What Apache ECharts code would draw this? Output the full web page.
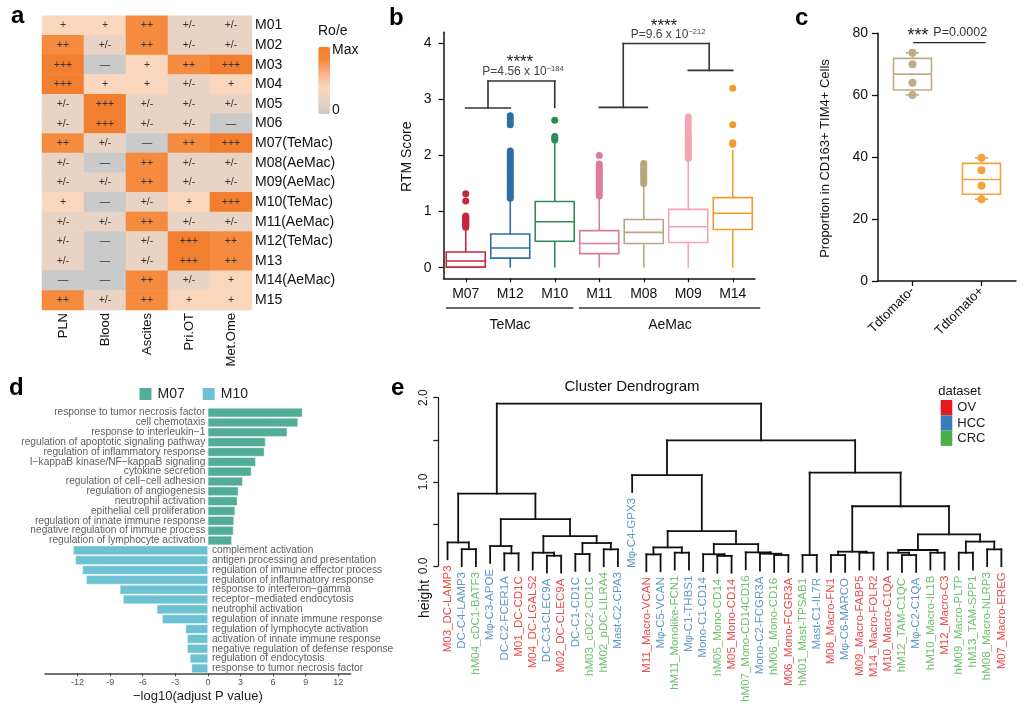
<!DOCTYPE html>
<html><head><meta charset="utf-8">
<script src="https://cdn.jsdelivr.net/npm/echarts@6/dist/echarts.min.js"></script>
<style>html,body{margin:0;padding:0;background:#fff}#c{width:1032px;height:720px}</style>
</head><body><div id="c"></div>
<script>
const FONT = '"Liberation Sans", Arial, Helvetica, sans-serif';

// ---------- panel a : Ro/e heatmap ----------
const aTissues = ['PLN', 'Blood', 'Ascites', 'Pri.OT', 'Met.Ome'];
const aModules = ['M01', 'M02', 'M03', 'M04', 'M05', 'M06', 'M07(TeMac)', 'M08(AeMac)', 'M09(AeMac)',
  'M10(TeMac)', 'M11(AeMac)', 'M12(TeMac)', 'M13', 'M14(AeMac)', 'M15'];
const aSymbols = [
  ['+', '+', '++', '+/-', '+/-'],
  ['++', '+/-', '++', '+/-', '+/-'],
  ['+++', '—', '+', '++', '+++'],
  ['+++', '+', '+', '+/-', '+'],
  ['+/-', '+++', '+/-', '+/-', '+/-'],
  ['+/-', '+++', '+/-', '+/-', '—'],
  ['++', '+/-', '—', '++', '+++'],
  ['+/-', '—', '++', '+/-', '+/-'],
  ['+/-', '+/-', '++', '+/-', '+/-'],
  ['+', '—', '+/-', '+', '+++'],
  ['+/-', '+/-', '++', '+/-', '+/-'],
  ['+/-', '—', '+/-', '+++', '++'],
  ['+/-', '—', '+/-', '+++', '++'],
  ['—', '—', '++', '+/-', '+'],
  ['++', '+/-', '++', '+', '+']
];
const aLevel = { '—': 0, '+/-': 0.8, '+': 1.6, '++': 3.2, '+++': 4 };

// ---------- panel b : RTM score boxplots ----------
const bCategories = ['M07', 'M12', 'M10', 'M11', 'M08', 'M09', 'M14'];
// [min, Q1, median, Q3, max]
const bStats = [
  [0, 0.01, 0.12, 0.28, 0.68],
  [0, 0.17, 0.35, 0.60, 1.22],
  [0, 0.47, 0.82, 1.18, 2.24],
  [0, 0.25, 0.43, 0.66, 1.25],
  [0, 0.43, 0.63, 0.86, 1.48],
  [0, 0.45, 0.73, 1.04, 1.92],
  [0, 0.68, 0.97, 1.25, 2.10]
];
const bOutliers = [
  [0.72, 0.74, 0.76, 0.78, 0.80, 0.82, 0.84, 0.86, 0.88, 0.90, 0.92, 1.19, 1.32],
  [1.24, 1.28, 1.32, 1.36, 1.40, 1.44, 1.48, 1.52, 1.56, 1.60, 1.64, 1.68, 1.72, 1.76, 1.80, 1.84, 1.88, 1.92, 1.96, 2.00, 2.04, 2.08, 2.55, 2.60, 2.66, 2.71],
  [2.28, 2.31, 2.34, 2.63],
  [1.28, 1.32, 1.36, 1.40, 1.44, 1.48, 1.52, 1.56, 1.60, 1.64, 1.68, 1.72, 1.76, 1.80, 1.85, 2.00],
  [1.50, 1.54, 1.58, 1.62, 1.66, 1.70, 1.74, 1.78, 1.82, 1.86],
  [1.95, 1.99, 2.03, 2.07, 2.11, 2.15, 2.19, 2.23, 2.27, 2.31, 2.35, 2.39, 2.45, 2.52, 2.58, 2.64, 2.69],
  [2.20, 2.23, 2.55, 3.20]
];
const bColors = ['#c8283f', '#2d6da8', '#2e8b57', '#db7c9d', '#b8a67e', '#f4a3b5', '#f29b2e'];
const bYTicks = [0, 1, 2, 3, 4];
// significance brackets, in (category index, score) space
const bBrackets = [
  [0, 2.85, 1, 2.85], [0.5, 2.85, 0.5, 3.33], [0.5, 3.33, 2, 3.33], [2, 3.33, 2, 2.86],
  [3, 2.86, 4.08, 2.86], [3.54, 2.86, 3.54, 4.0], [3.54, 4.0, 5.47, 4.0], [5.47, 4.0, 5.47, 3.52], [5, 3.52, 6, 3.52],
  [-0.43, -0.72, 2.4, -0.72], [2.56, -0.72, 6.6, -0.72]
];

// ---------- panel c ----------
const cGroups = ['Tdtomato-', 'Tdtomato+'];
const cStats = [[60.1, 61.7, 66.8, 71.9, 73.7], [26.4, 28.0, 32.8, 38.0, 39.8]];
const cPoints = [[73.7, 70.0, 64.0, 60.1], [39.8, 35.8, 30.8, 26.4]];
const cColors = ['#bead86', '#f3a23c'];
const cSigLine = [[0.02, 77, 1.05, 77]];

// ---------- panel d : GO enrichment ----------
const dM07Terms = ['response to tumor necrosis factor', 'cell chemotaxis', 'response to interleukin−1',
  'regulation of apoptotic signaling pathway', 'regulation of inflammatory response',
  'I−kappaB kinase/NF−kappaB signaling', 'cytokine secretion', 'regulation of cell−cell adhesion',
  'regulation of angiogenesis', 'neutrophil activation', 'epithelial cell proliferation',
  'regulation of innate immune response', 'negative regulation of immune process',
  'regulation of lymphocyte activation'];
const dM07Values = [8.7, 8.3, 7.3, 5.3, 5.2, 4.4, 4.0, 3.2, 2.8, 2.7, 2.5, 2.4, 2.35, 2.2];
const dM10Terms = ['complement activation', 'antigen processing and presentation',
  'regulation of immune effector process', 'regulation of inflammatory response',
  'response to interferon−gamma', 'receptor−mediated endocytosis', 'neutrophil activation',
  'regulation of innate immune response', 'regulation of lymphocyte activation',
  'activation of innate immune response', 'negative regulation of defense response',
  'regulation of endocytosis', 'response to tumor necrosis factor'];
const dM10Values = [-12.4, -12.2, -11.55, -11.2, -8.1, -7.8, -4.7, -4.2, -2.05, -1.9, -1.9, -1.65, -1.5];
const dTicks = [-12, -9, -6, -3, 0, 3, 6, 9, 12];

// ---------- panel e : cluster dendrogram ----------
const eLeaves = ['M03_DC-LAMP3', 'DC-C4-LAMP3', 'hM04_cDC1-BATF3', 'Mφ-C3-APOE', 'DC-C2-FCER1A',
  'M01_DC-CD1C', 'M04_DC-LGALS2', 'DC-C3-CLEC9A', 'M02_DC-CLEC9A', 'DC-C1-CD1C', 'hM03_cDC2-CD1C',
  'hM02_pDC-LILRA4', 'Mast-C2-CPA3', 'Mφ-C4-GPX3', 'M11_Macro-VCAN', 'Mφ-C5-VCAN',
  'hM11_Monolike-FCN1', 'Mφ-C1-THBS1', 'Mono-C1-CD14', 'hM05_Mono-CD14', 'M05_Mono-CD14',
  'hM07_Mono-CD14CD16', 'Mono-C2-FCGR3A', 'hM06_Mono-CD16', 'M06_Mono-FCGR3A', 'hM01_Mast-TPSAB1',
  'Mast-C1-IL7R', 'M08_Macro-FN1', 'Mφ-C6-MARCO', 'M09_Macro-FABP5', 'M14_Macro-FOLR2',
  'M10_Macro-C1QA', 'hM12_TAM-C1QC', 'Mφ-C2-C1QA', 'hM10_Macro-IL1B', 'M12_Macro-C3',
  'hM09_Macro-PLTP', 'hM13_TAM-SPP1', 'hM08_Macro-NLRP3', 'M07_Macro-EREG'];
const eDataset = ['OV', 'HCC', 'CRC', 'HCC', 'HCC', 'OV', 'OV', 'HCC', 'OV', 'HCC', 'CRC', 'CRC', 'HCC',
  'HCC', 'OV', 'HCC', 'CRC', 'HCC', 'HCC', 'CRC', 'OV', 'CRC', 'HCC', 'CRC', 'OV', 'CRC', 'HCC', 'OV',
  'HCC', 'OV', 'OV', 'OV', 'CRC', 'HCC', 'CRC', 'OV', 'CRC', 'CRC', 'CRC', 'OV'];
const eDatasetNames = ['OV', 'HCC', 'CRC'];
const eDatasetColors = { OV: '#e41a1c', HCC: '#377eb8', CRC: '#4daf4a' };
// [height, left, right]; numbers are leaf indices
const eTree = [1.93,
  [0.86, [0.28, 0, [0.20, 1, 2]],
    [0.557, [0.237, 3, [0.15, 4, 5]],
      [0.356, [0.158, 6, [0.122, 7, 8]], [0.273, [0.142, 9, 10], [0.198, 11, 12]]]]],
  [1.494,
    [1.08, 13, [0.415, [0.221, [0.138, 14, 15], [0.158, 16, 17]],
      [0.26, [0.14, 18, [0.12, 19, 20]], [0.162, 21, [0.146, 22, [0.13, 23, 24]]]]]],
    [1.11, [0.13, 25, 26],
      [0.71, [0.17, [0.13, 27, 28], [0.158, 29, 30]],
        [0.375, [0.19, [0.158, 31, [0.13, 32, 33]], [0.158, 34, 35]],
          [0.29, [0.158, 36, 37], [0.198, 38, 39]]]]]]];
const eHang = 0.2;

// ================= build =================
const aData = [];
aSymbols.forEach((row, r) => row.forEach((s, c) => aData.push([c, r, aLevel[s]])));

const eSegs = [];
const eLeafEnd = new Array(eLeaves.length).fill(0);
function walk(node) {
  if (typeof node === 'number') return { x: node, leaf: true };
  const h = node[0];
  const L = walk(node[1]), R = walk(node[2]);
  [L, R].forEach(ch => {
    let y0;
    if (ch.leaf) { y0 = h - eHang; eLeafEnd[ch.x] = y0; } else y0 = ch.y;
    eSegs.push([ch.x, y0, ch.x, h]);
  });
  eSegs.push([L.x, h, R.x, h]);
  return { x: (L.x + R.x) / 2, y: h, leaf: false };
}
walk(eTree);

function segSeries(data, xi, yi, color, lw) {
  return {
    type: 'custom', xAxisIndex: xi, yAxisIndex: yi, clip: false, silent: true, z: 5,
    encode: { x: [0, 2], y: [1, 3] }, data: data,
    renderItem: (params, api) => {
      const p1 = api.coord([api.value(0), api.value(1)]);
      const p2 = api.coord([api.value(2), api.value(3)]);
      return { type: 'line', shape: { x1: p1[0], y1: p1[1], x2: p2[0], y2: p2[1] },
        style: { stroke: color, lineWidth: lw, lineCap: 'square' } };
    }
  };
}
function boxSeries(stats, colors, xi, yi, boxW, capW, lw) {
  return {
    type: 'custom', xAxisIndex: xi, yAxisIndex: yi, clip: false, silent: true, z: 3,
    encode: { x: 0, y: [1, 2, 3, 4, 5] },
    data: stats.map((s, i) => [i].concat(s)),
    renderItem: (params, api) => {
      const i = api.value(0);
      const p = [1, 2, 3, 4, 5].map(k => api.coord([i, api.value(k)]));
      const cx = p[2][0];
      const col = colors[params.dataIndex];
      const st = () => ({ stroke: col, lineWidth: lw, fill: null });
      const ch = [
        { type: 'line', shape: { x1: cx, y1: p[3][1], x2: cx, y2: p[4][1] }, style: st() },
        { type: 'line', shape: { x1: cx, y1: p[1][1], x2: cx, y2: p[0][1] }, style: st() },
        { type: 'rect', shape: { x: cx - boxW / 2, y: p[3][1], width: boxW, height: p[1][1] - p[3][1] },
          style: { stroke: col, lineWidth: lw, fill: '#fff' } },
        { type: 'line', shape: { x1: cx - boxW / 2, y1: p[2][1], x2: cx + boxW / 2, y2: p[2][1] }, style: st() }
      ];
      if (capW) {
        ch.push({ type: 'line', shape: { x1: cx - capW / 2, y1: p[4][1], x2: cx + capW / 2, y2: p[4][1] }, style: st() });
        ch.push({ type: 'line', shape: { x1: cx - capW / 2, y1: p[0][1], x2: cx + capW / 2, y2: p[0][1] }, style: st() });
      }
      return { type: 'group', children: ch };
    }
  };
}
function T(text, x, y, o) {
  o = o || {};
  const style = { text: text, fill: o.color || '#111', fontSize: o.size || 13, fontFamily: FONT,
    fontWeight: o.weight || 'normal', align: o.align || 'left', verticalAlign: o.va || 'middle' };
  if (o.rich) style.rich = o.rich;
  return { type: 'text', x: x, y: y, rotation: o.rot || 0, silent: true, z: 100, style: style };
}
const supRich = { n: { fontSize: 12, fill: '#444', fontFamily: FONT, lineHeight: 14 },
  s: { fontSize: 7.5, fill: '#444', fontFamily: FONT, verticalAlign: 'top', lineHeight: 14 } };

const noLine = { show: false };
const blackLine = { show: true, onZero: false, lineStyle: { color: '#111', width: 1.5 } };

const bOutData = [];
bOutliers.forEach((arr, i) => arr.forEach(v => bOutData.push({ value: [i, v], itemStyle: { color: bColors[i], opacity: 1 } })));
const cPtData = [];
cPoints.forEach((arr, i) => arr.forEach(v => cPtData.push({ value: [i, v], itemStyle: { color: cColors[i], opacity: 1 } })));

const dIds = dM07Terms.concat(dM10Terms).map((t, i) => 'r' + i);
const dLabelText = dM07Terms.concat(dM10Terms);
const dM07Data = dM07Values.concat(dM10Terms.map(() => '-'));
const dM10Data = dM07Terms.map(() => '-').concat(dM10Values);
const dLabelData = dLabelText.map((t, i) => ({
  value: [0, i],
  label: i < dM07Terms.length ? { position: 'left', distance: 2.5 } : { position: 'right', distance: 4 }
}));

const eLabelData = eLeaves.map((t, i) => ({ value: [i, eLeafEnd[i]], label: { color: eDatasetColors[eDataset[i]] } }));

const gridBase = { containLabel: false, outerBoundsMode: 'none', show: false };

const option = {
  animation: false,
  backgroundColor: '#fff',
  textStyle: { fontFamily: FONT },
  grid: [
    Object.assign({ left: 42, top: 15.7, width: 210, height: 294.3 }, gridBase),
    Object.assign({ left: 443.5, top: 32.3, width: 311.5, height: 246 }, gridBase),
    Object.assign({ left: 878, top: 33.3, width: 138, height: 247.7 }, gridBase),
    Object.assign({ left: 45, top: 407.7, width: 305.7, height: 265.6 }, gridBase),
    Object.assign({ left: 438.3, top: 397.7, width: 572.3, height: 168.3 }, gridBase)
  ],
  xAxis: [
    { gridIndex: 0, type: 'category', data: aTissues, axisLine: noLine, axisTick: { show: false }, splitLine: { show: false },
      axisLabel: { rotate: 90, fontSize: 13, color: '#111', margin: 3, interval: 0 } },
    { gridIndex: 1, type: 'category', data: bCategories, axisLine: blackLine,
      axisTick: { show: true, alignWithLabel: true, length: 4, lineStyle: { color: '#111', width: 1.2 } },
      axisLabel: { fontSize: 14, color: '#111', margin: 9, interval: 0 }, splitLine: { show: false } },
    { gridIndex: 1, type: 'value', min: -0.5, max: 6.5, show: false },
    { gridIndex: 2, type: 'category', data: cGroups, axisLine: blackLine,
      axisTick: { show: true, alignWithLabel: true, length: 5, lineStyle: { color: '#111', width: 1.3 } },
      axisLabel: { rotate: 45, fontSize: 13, color: '#111', margin: 8, interval: 0 }, splitLine: { show: false } },
    { gridIndex: 2, type: 'value', min: -0.5, max: 1.5, show: false },
    { gridIndex: 3, type: 'value', min: -15, max: 13.15,
      axisLine: { show: true, onZero: false, lineStyle: { color: '#444', width: 1.5 } },
      axisTick: { show: true, customValues: dTicks, length: 3, lineStyle: { color: '#444' } },
      axisLabel: { customValues: dTicks, fontSize: 9, color: '#555', margin: 5 }, splitLine: { show: false },
      name: '−log10(adjust P value)', nameLocation: 'middle', nameGap: 17,
      nameTextStyle: { fontSize: 13, color: '#222', fontFamily: FONT } },
    { gridIndex: 4, type: 'value', min: -0.65, max: 39.65, show: false }
  ],
  yAxis: [
    { gridIndex: 0, type: 'category', data: aModules, inverse: true, position: 'right', axisLine: noLine,
      axisTick: { show: false }, splitLine: { show: false },
      axisLabel: { fontSize: 14, color: '#111', margin: 3, interval: 0 } },
    { gridIndex: 1, type: 'value', min: -0.19, max: 4.2, axisLine: blackLine,
      axisTick: { show: true, customValues: bYTicks, length: 5, lineStyle: { color: '#111', width: 1.2 } },
      axisLabel: { customValues: bYTicks, fontSize: 14, color: '#111', margin: 12 }, splitLine: { show: false } },
    { gridIndex: 2, type: 'value', min: 0, max: 80, interval: 20, axisLine: blackLine,
      axisTick: { show: true, length: 6, lineStyle: { color: '#111', width: 1.3 } },
      axisLabel: { fontSize: 14, color: '#111', margin: 10 }, splitLine: { show: false } },
    { gridIndex: 3, type: 'category', data: dIds, inverse: true, show: false },
    { gridIndex: 4, type: 'value', min: 0, max: 2,
      axisLine: { show: true, onZero: false, lineStyle: { color: '#222', width: 1.3 } },
      axisTick: { show: true, customValues: [0, 0.5, 1, 1.5, 2], length: 5, lineStyle: { color: '#222', width: 1.3 } },
      axisLabel: { customValues: [0, 1, 2], formatter: v => Number(v).toFixed(1), rotate: 90, fontSize: 12, color: '#222', margin: 9 },
      splitLine: { show: false } }
  ],
  visualMap: [{
    type: 'continuous', seriesIndex: 0, dimension: 2, min: 0, max: 4, show: true, calculable: false,
    left: 318.3, top: 46.7, itemWidth: 11.7, itemHeight: 67.6, padding: 0, text: null, hoverLink: false,
    inRange: { color: ['#cacaca', '#e8d3c4', '#f9d6bc', '#f7b386', '#f48b3e', '#f27f2f'] }
  }],
  legend: [
    { data: ['M07', 'M10'], left: 137.5, top: 386, itemWidth: 14, itemHeight: 14, itemGap: 16, icon: 'rect',
      padding: 0, selectedMode: false, textStyle: { fontSize: 14, color: '#222', fontFamily: FONT } },
    { data: eDatasetNames, orient: 'vertical', left: 940.7, top: 400, itemWidth: 11.6, itemHeight: 15.3, itemGap: 0,
      icon: 'rect', padding: 0, selectedMode: false, textStyle: { fontSize: 13, color: '#222', fontFamily: FONT } }
  ],
  series: [
    { type: 'heatmap', xAxisIndex: 0, yAxisIndex: 0, data: aData, silent: true,
      label: { show: true, formatter: p => aSymbols[p.value[1]][p.value[0]], fontSize: 10.5, color: '#333' },
      itemStyle: { borderWidth: 0 }, emphasis: { disabled: true } },
    boxSeries(bStats, bColors, 1, 1, 39, 0, 1.6),
    { type: 'scatter', xAxisIndex: 1, yAxisIndex: 1, data: bOutData, symbolSize: 7, silent: true, z: 4 },
    segSeries(bBrackets, 2, 1, '#333', 1.6),
    boxSeries(cStats, cColors, 3, 2, 38, 13, 1.6),
    { type: 'scatter', xAxisIndex: 3, yAxisIndex: 2, data: cPtData, symbolSize: 8, silent: true, z: 6 },
    segSeries(cSigLine, 4, 2, '#222', 1.4),
    { type: 'bar', name: 'M07', xAxisIndex: 5, yAxisIndex: 3, data: dM07Data, barCategoryGap: '8%', barGap: '-100%',
      itemStyle: { color: '#52ad97', borderColor: '#fff', borderWidth: 0.4 }, silent: true },
    { type: 'bar', name: 'M10', xAxisIndex: 5, yAxisIndex: 3, data: dM10Data, barCategoryGap: '8%', barGap: '-100%',
      itemStyle: { color: '#6cc2d2', borderColor: '#fff', borderWidth: 0.4 }, silent: true },
    { type: 'scatter', xAxisIndex: 5, yAxisIndex: 3, data: dLabelData, symbolSize: 0.1, silent: true,
      itemStyle: { color: 'rgba(0,0,0,0)' },
      label: { show: true, formatter: p => dLabelText[p.dataIndex], fontSize: 10.2, color: '#333', fontFamily: FONT } },
    segSeries(eSegs, 6, 4, '#111', 1.8),
    { type: 'scatter', xAxisIndex: 6, yAxisIndex: 4, data: eLabelData, symbolSize: 0.1, silent: true, clip: false,
      itemStyle: { color: 'rgba(0,0,0,0)' },
      label: { show: true, formatter: p => eLeaves[p.dataIndex], rotate: 90, position: 'bottom', distance: 6,
        align: 'right', verticalAlign: 'middle', fontSize: 11.5, fontFamily: FONT } },
    { type: 'scatter', name: 'OV', xAxisIndex: 6, yAxisIndex: 4, data: [], itemStyle: { color: eDatasetColors.OV, opacity: 1 } },
    { type: 'scatter', name: 'HCC', xAxisIndex: 6, yAxisIndex: 4, data: [], itemStyle: { color: eDatasetColors.HCC, opacity: 1 } },
    { type: 'scatter', name: 'CRC', xAxisIndex: 6, yAxisIndex: 4, data: [], itemStyle: { color: eDatasetColors.CRC, opacity: 1 } }
  ],
  graphic: [
    T('a', 11, 16.6, { size: 24, weight: 'bold', color: '#000' }),
    T('b', 389, 18.6, { size: 24, weight: 'bold', color: '#000' }),
    T('c', 795, 18.6, { size: 24, weight: 'bold', color: '#000' }),
    T('d', 9, 388.6, { size: 24, weight: 'bold', color: '#000' }),
    T('e', 391, 388.6, { size: 24, weight: 'bold', color: '#000' }),
    T('Ro/e', 318, 31.5, { size: 14 }),
    T('Max', 332, 50.5, { size: 14 }),
    T('0', 332, 110, { size: 14 }),
    T('RTM Score', 406.7, 156.7, { size: 14, align: 'center', rot: Math.PI / 2 }),
    T('****', 520, 62.5, { size: 17, align: 'center', color: '#222' }),
    T('{n|P=4.56 x 10}{s|−184}', 523, 72, { align: 'center', rich: supRich }),
    T('****', 664, 26.6, { size: 17, align: 'center', color: '#222' }),
    T('{n|P=9.6 x 10}{s|−212}', 668, 35, { align: 'center', rich: supRich }),
    T('TeMac', 510, 325, { size: 14, align: 'center' }),
    T('AeMac', 670, 325, { size: 14, align: 'center' }),
    T('Proportion in CD163+ TIM4+ Cells', 825, 158.5, { size: 13, align: 'center', rot: Math.PI / 2 }),
    T('***', 918, 36.3, { size: 18, align: 'center', color: '#222' }),
    T('P=0.0002', 933.3, 33, { size: 12.5, color: '#333' }),
    T('Cluster Dendrogram', 632, 387, { size: 15, align: 'center' }),
    T('height', 425, 599, { size: 14, align: 'center', rot: Math.PI / 2 }),
    T('dataset', 938.3, 391, { size: 13 })
  ]
};

const chart = echarts.init(document.getElementById('c'), null, { renderer: 'canvas', width: 1032, height: 720 });
chart.setOption(option);
</script>
</body></html>
